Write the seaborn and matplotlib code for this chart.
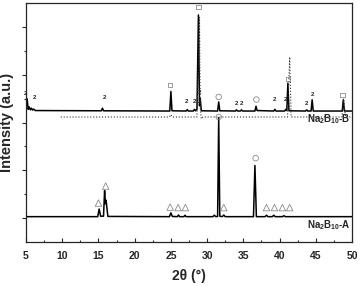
import numpy as np
import pandas as pd
import matplotlib
matplotlib.use("Agg")
import matplotlib.pyplot as plt
import seaborn as sns
from matplotlib.ticker import MultipleLocator

# XRD pattern of sample A (bottom trace)
a_theta = [5, 14.9, 15.1, 15.3, 15.7, 15.85, 15.95, 16.05, 16.3,
           24.8, 25.0, 25.2, 25.9, 26.05, 26.2, 26.8, 26.95, 27.1,
           30.8, 31.0, 31.2, 31.45, 31.6, 31.75, 32.1, 32.3, 32.5,
           36.4, 36.6, 36.8, 38.0, 38.2, 38.4, 39.0, 39.2, 39.4,
           40.4, 40.6, 40.8, 50]
a_int = [10.6, 10.6, 13.8, 10.8, 10.8, 21.5, 16, 17.5, 10.7,
         10.6, 12.2, 10.7, 10.6, 11.3, 10.6, 10.6, 11.2, 10.6,
         10.6, 11.2, 10.6, 10.7, 52, 10.8, 10.6, 11.3, 10.6,
         10.6, 32, 10.6, 10.6, 11.2, 10.6, 10.6, 11.2, 10.6,
         10.6, 11.0, 10.6, 10.6]

# sample B (top trace)
b_theta = [5, 5.15, 5.3, 5.45, 5.6, 5.75, 5.9, 6.05, 6.3,
           15.4, 15.55, 15.7, 24.85, 25.0, 25.15, 27.1, 27.25, 27.4,
           28.1, 28.25, 28.4, 28.6, 28.8, 28.95, 29.05, 29.2,
           31.45, 31.6, 31.75, 33.9, 34.05, 34.2, 34.6, 34.75, 34.9,
           36.6, 36.75, 36.9, 39.2, 39.35, 39.5,
           40.7, 40.85, 41.0, 41.15, 41.3, 43.6, 43.75, 43.9,
           44.35, 44.5, 44.65, 48.65, 48.8, 48.95, 50]
b_int = [56, 60, 55.5, 56.5, 55.3, 56, 55.2, 55.6, 55,
         54.9, 56, 54.9, 54.8, 63, 54.9, 54.8, 55.4, 54.8,
         54.8, 55.5, 54.9, 55.5, 95, 57, 60, 54.9,
         54.8, 58.6, 54.9, 54.8, 55.3, 54.8, 54.8, 55.3, 54.8,
         54.8, 56.8, 55, 54.8, 55.5, 54.8,
         54.8, 55.5, 55, 66.5, 54.9, 54.8, 55.3, 54.8,
         54.8, 59.5, 54.8, 54.8, 59.5, 54.8, 54.8]

# dotted reference trace under B
d_theta = [9.8, 24.8, 25.0, 25.2, 28.6, 28.95, 29.05, 29.2, 29.4,
           41.1, 41.4, 41.6, 48.6, 48.85, 49.1, 50]
d_int = [52.3, 52.3, 53.3, 52.3, 52.3, 94, 56, 51.5, 52.3,
         52.3, 77.4, 52.3, 52.3, 60, 52.3, 52.3]

# phase markers
square_x = [24.9, 28.8, 41.2, 48.7]
square_y = [65.7, 98.3, 68.2, 61.5]
circle_x = [31.6, 36.8, 31.6, 36.7]
circle_y = [60.7, 59.6, 52.3, 35.1]
tri_x = [15.0, 16.0, 24.9, 26.0, 27.0, 32.3, 38.2, 39.3, 40.4, 41.4]
tri_y = [16.3, 23.4, 14.6, 14.4, 14.4, 14.4, 14.4, 14.4, 14.4, 14.4]
two_x = [5.0, 6.15, 15.8, 27.2, 28.2, 28.9, 28.9, 34.0, 34.7, 39.3, 40.8, 43.7, 44.5]
two_y = [61.0, 59.4, 59.4, 57.7, 57.7, 57.7, 61.5, 56.9, 56.9, 58.7, 58.7, 56.9, 60.8]

sns.set_style("ticks")
plt.rcParams["font.family"] = ["Liberation Sans", "DejaVu Sans"]
plt.rcParams["font.weight"] = "bold"
plt.rcParams["mathtext.fontset"] = "custom"
plt.rcParams["mathtext.rm"] = "Liberation Sans:bold"
plt.rcParams["mathtext.it"] = "Liberation Sans:bold"
plt.rcParams["mathtext.bf"] = "Liberation Sans:bold"

fig = plt.figure(figsize=(3.6, 2.86), dpi=100)
ax = fig.add_axes([26 / 360, 44 / 286, 326 / 360, 239 / 286])

sns.lineplot(x=a_theta, y=a_int, estimator=None, sort=False, color="black", lw=1.1, ax=ax)
sns.lineplot(x=b_theta, y=b_int, estimator=None, sort=False, color="black", lw=1.1, ax=ax)
sns.lineplot(x=d_theta, y=d_int, estimator=None, sort=False, color="#333333", lw=0.8,
             linestyle=":", ax=ax)

mk = dict(facecolor="none", edgecolor="#8a8a8a", linewidth=0.6, ax=ax, zorder=4)
sns.scatterplot(x=square_x, y=square_y, marker="s", s=10, **mk)
sns.scatterplot(x=circle_x, y=circle_y, marker="o", s=16, **mk)
sns.scatterplot(x=tri_x, y=tri_y, marker="^", s=22, **mk)

for x, y in zip(two_x, two_y):
    ax.text(x, y, "2", fontsize=4.5, fontweight="bold", ha="center", va="bottom")

ax.text(49.85, 50.2, r"Na$_2$B$_{10}$-B", fontsize=7, fontweight="bold",
        ha="right", va="baseline")
ax.text(49.85, 5.9, r"Na$_2$B$_{10}$-A", fontsize=7, fontweight="bold",
        ha="right", va="baseline")

ax.set_xlim(5, 50)
ax.set_ylim(0, 100)
ax.xaxis.set_major_locator(MultipleLocator(5))
ax.xaxis.set_minor_locator(MultipleLocator(2.5))
ax.set_yticks([10, 30, 50, 70, 90])
ax.set_yticks([20, 40, 60, 80], minor=True)
ax.tick_params(axis="x", which="major", direction="in", length=3, width=0.8,
               labelsize=7.5, pad=6.5)
ax.tick_params(axis="x", which="minor", direction="in", length=1.5, width=0.8)
ax.tick_params(axis="y", which="major", direction="out", length=3, width=0.8,
               labelleft=False)
ax.tick_params(axis="y", which="minor", direction="out", length=1.5, width=0.8)
for lbl in ax.get_xticklabels():
    lbl.set_fontweight("bold")
for sp in ax.spines.values():
    sp.set_linewidth(0.9)
    sp.set_visible(True)

ax.set_xlabel("2θ (°)", fontsize=10, fontweight="bold", labelpad=5.5)
ax.set_ylabel("Intensity (a.u.)", fontsize=10.5, fontweight="bold")
ax.yaxis.set_label_coords(-0.036, 0.5)

fig.savefig("out.png", dpi=100)
